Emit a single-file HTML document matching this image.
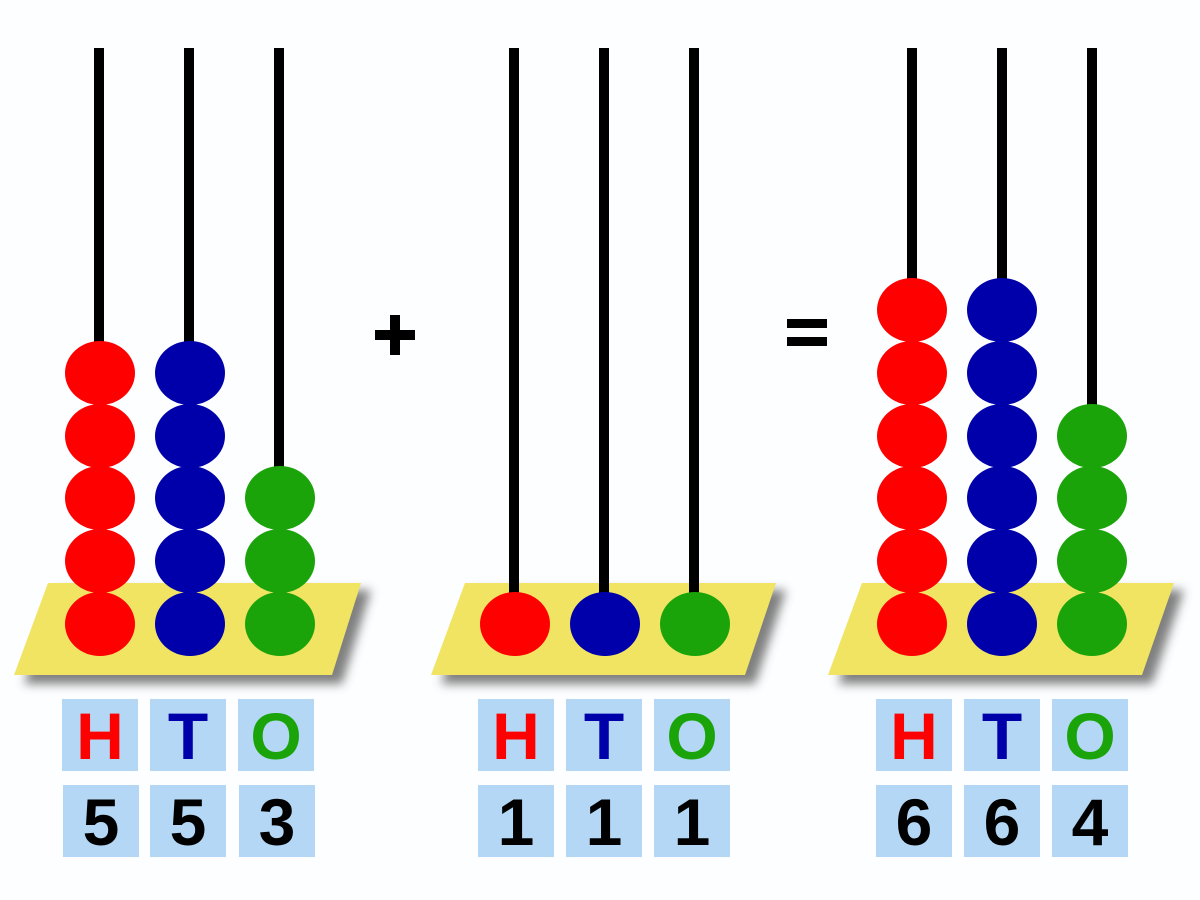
<!DOCTYPE html>
<html><head><meta charset="utf-8"><style>
html,body{margin:0;padding:0;background:#fdfeff;}
svg{display:block}
text{font-family:"Liberation Sans",Arial,sans-serif;font-weight:bold;font-size:66px;text-anchor:middle}
</style></head><body>
<svg width="1200" height="900" viewBox="0 0 1200 900" xmlns="http://www.w3.org/2000/svg">
<defs>
<filter id="sh" x="-10%" y="-20%" width="130%" height="160%"><feGaussianBlur stdDeviation="5"/></filter>
</defs>
<rect width="1200" height="900" fill="#fdfeff"/>
<!-- bases with shadows -->
<g>
<polygon points="58,590 371,590 342,684 24,684" fill="#555" opacity="0.75" filter="url(#sh)"/>
<polygon points="48,583 361,583 332,675 14,675" fill="#f0e462"/>
<polygon points="475,590 786,590 755,684 441,684" fill="#555" opacity="0.75" filter="url(#sh)"/>
<polygon points="465,583 776,583 745,675 431,675" fill="#f0e462"/>
<polygon points="872,590 1184,590 1152,684 838,684" fill="#555" opacity="0.75" filter="url(#sh)"/>
<polygon points="862,583 1174,583 1142,675 828,675" fill="#f0e462"/>
</g>
<!-- rods -->
<g fill="#000">
<rect x="94" y="48" width="10" height="560"/><rect x="184" y="48" width="10" height="560"/><rect x="274" y="48" width="10" height="560"/>
<rect x="509" y="48" width="10" height="560"/><rect x="599" y="48" width="10" height="560"/><rect x="689" y="48" width="10" height="560"/>
<rect x="907" y="48" width="10" height="560"/><rect x="997" y="48" width="10" height="560"/><rect x="1087" y="48" width="10" height="560"/>
</g>
<!-- beads abacus 1 -->
<g fill="#ff0000">
<ellipse cx="100" cy="624" rx="35" ry="32"/><ellipse cx="100" cy="561" rx="35" ry="32"/><ellipse cx="100" cy="498" rx="35" ry="32"/><ellipse cx="100" cy="436" rx="35" ry="32"/><ellipse cx="100" cy="373" rx="35" ry="32"/>
</g>
<g fill="#0000aa">
<ellipse cx="190" cy="624" rx="35" ry="32"/><ellipse cx="190" cy="561" rx="35" ry="32"/><ellipse cx="190" cy="498" rx="35" ry="32"/><ellipse cx="190" cy="436" rx="35" ry="32"/><ellipse cx="190" cy="373" rx="35" ry="32"/>
</g>
<g fill="#1aa40a">
<ellipse cx="280" cy="624" rx="35" ry="32"/><ellipse cx="280" cy="561" rx="35" ry="32"/><ellipse cx="280" cy="498" rx="35" ry="32"/>
</g>
<!-- abacus 2 -->
<ellipse cx="515" cy="624" rx="35" ry="32" fill="#ff0000"/>
<ellipse cx="605" cy="624" rx="35" ry="32" fill="#0000aa"/>
<ellipse cx="695" cy="624" rx="35" ry="32" fill="#1aa40a"/>
<!-- abacus 3 -->
<g fill="#ff0000">
<ellipse cx="912" cy="624" rx="35" ry="32"/><ellipse cx="912" cy="561" rx="35" ry="32"/><ellipse cx="912" cy="498" rx="35" ry="32"/><ellipse cx="912" cy="436" rx="35" ry="32"/><ellipse cx="912" cy="373" rx="35" ry="32"/><ellipse cx="912" cy="310" rx="35" ry="32"/>
</g>
<g fill="#0000aa">
<ellipse cx="1002" cy="624" rx="35" ry="32"/><ellipse cx="1002" cy="561" rx="35" ry="32"/><ellipse cx="1002" cy="498" rx="35" ry="32"/><ellipse cx="1002" cy="436" rx="35" ry="32"/><ellipse cx="1002" cy="373" rx="35" ry="32"/><ellipse cx="1002" cy="310" rx="35" ry="32"/>
</g>
<g fill="#1aa40a">
<ellipse cx="1092" cy="624" rx="35" ry="32"/><ellipse cx="1092" cy="561" rx="35" ry="32"/><ellipse cx="1092" cy="498" rx="35" ry="32"/><ellipse cx="1092" cy="436" rx="35" ry="32"/>
</g>
<!-- plus / equals -->
<rect x="375" y="330" width="40" height="10" fill="#000"/><rect x="390" y="315" width="10" height="40" fill="#000"/>
<rect x="787" y="319" width="40" height="9" fill="#000"/><rect x="787" y="337" width="40" height="9" fill="#000"/>
<!-- label boxes -->
<g fill="#b3d7f5">
<rect x="62" y="699" width="76" height="72"/><rect x="150" y="699" width="76" height="72"/><rect x="238" y="699" width="76" height="72"/>
<rect x="63" y="785" width="76" height="72"/><rect x="150" y="785" width="76" height="72"/><rect x="239" y="785" width="76" height="72"/>
<rect x="478" y="699" width="76" height="72"/><rect x="566" y="699" width="76" height="72"/><rect x="654" y="699" width="76" height="72"/>
<rect x="478" y="785" width="76" height="72"/><rect x="566" y="785" width="76" height="72"/><rect x="654" y="785" width="76" height="72"/>
<rect x="876" y="699" width="76" height="72"/><rect x="964" y="699" width="76" height="72"/><rect x="1052" y="699" width="76" height="72"/>
<rect x="876" y="785" width="76" height="72"/><rect x="964" y="785" width="76" height="72"/><rect x="1052" y="785" width="76" height="72"/>
</g>
<g>
<text x="100" y="759" fill="#ff0000">H</text><text x="188" y="759" fill="#0000aa">T</text><text x="276" y="759" fill="#1aa40a">O</text>
<text x="101" y="845" fill="#000">5</text><text x="188" y="845" fill="#000">5</text><text x="277" y="845" fill="#000">3</text>
<text x="516" y="759" fill="#ff0000">H</text><text x="604" y="759" fill="#0000aa">T</text><text x="692" y="759" fill="#1aa40a">O</text>
<text x="516" y="845" fill="#000">1</text><text x="604" y="845" fill="#000">1</text><text x="692" y="845" fill="#000">1</text>
<text x="914" y="759" fill="#ff0000">H</text><text x="1002" y="759" fill="#0000aa">T</text><text x="1090" y="759" fill="#1aa40a">O</text>
<text x="914" y="845" fill="#000">6</text><text x="1002" y="845" fill="#000">6</text><text x="1090" y="845" fill="#000">4</text>
</g>
</svg>
</body></html>
